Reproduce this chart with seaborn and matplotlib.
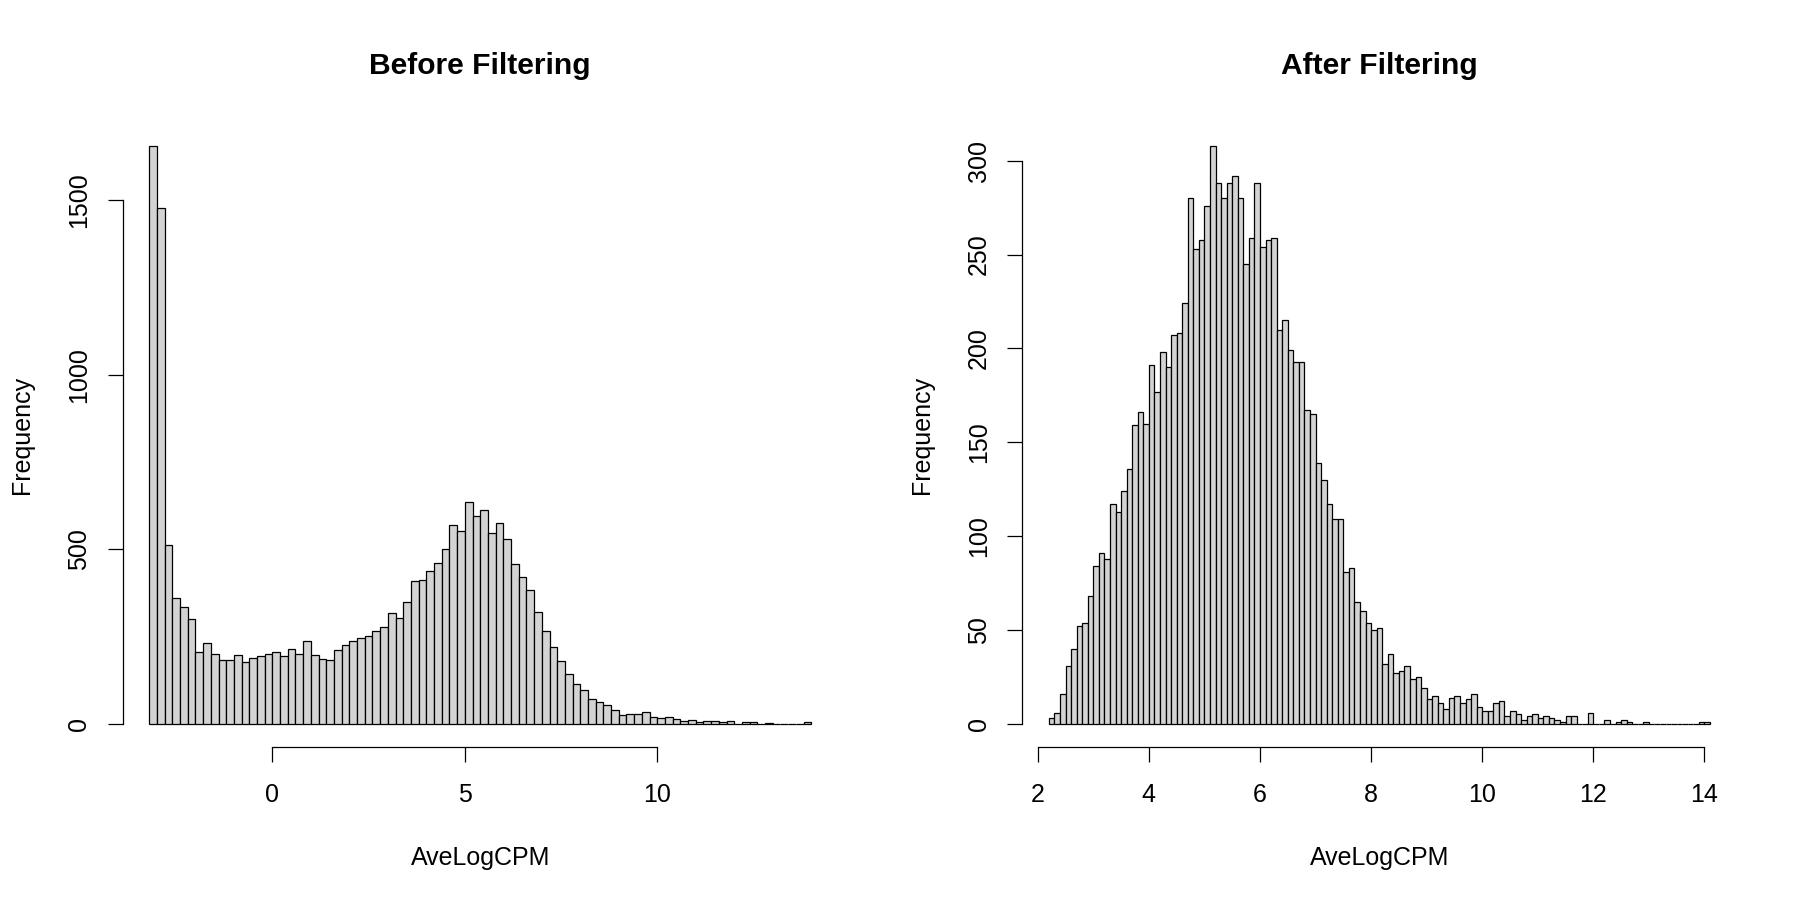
import numpy as np
import pandas as pd
import matplotlib
matplotlib.use("Agg")
import matplotlib.pyplot as plt
import seaborn as sns

# bin breaks (width 0.2 before filtering, 0.1 after filtering)
before_breaks = np.round(np.linspace(-3.2, 14.0, 87), 2)
after_breaks = np.round(np.linspace(2.2, 14.1, 120), 2)

# counts per bin
before_counts = [
    1657, 1478, 512, 362, 336, 301, 207, 231, 199, 182,
    184, 196, 176, 189, 194, 199, 206, 194, 214, 199,
    238, 198, 187, 183, 213, 225, 237, 245, 252, 267,
    277, 318, 302, 350, 410, 413, 439, 462, 500, 570,
    553, 637, 597, 612, 548, 575, 529, 459, 420, 383,
    320, 267, 221, 180, 142, 114, 96, 71, 62, 54,
    40, 25, 27, 28, 33, 21, 17, 21, 15, 8,
    12, 6, 7, 8, 4, 8, 1, 4, 4, 1,
    3, 1, 1, 1, 1, 4,
]
after_counts = [
    3, 6, 16, 31, 40, 52, 54, 68, 84, 91,
    88, 117, 113, 124, 136, 159, 166, 160, 191, 177,
    198, 190, 207, 208, 224, 280, 253, 258, 276, 308,
    288, 280, 288, 292, 280, 245, 259, 288, 254, 258,
    259, 210, 215, 199, 193, 193, 167, 165, 139, 130,
    117, 109, 109, 81, 83, 65, 60, 54, 50, 51,
    32, 37, 27, 28, 31, 24, 25, 19, 13, 15,
    11, 8, 14, 15, 11, 13, 16, 9, 7, 7,
    11, 12, 4, 7, 5, 2, 4, 5, 3, 4,
    3, 2, 1, 4, 4, 0, 0, 6, 0, 0,
    2, 0, 1, 2, 1, 0, 0, 1, 0, 0,
    0, 0, 0, 0, 0, 0, 0, 1, 1,
]

panels = [
    ("Before Filtering", before_breaks, before_counts, [0, 5, 10], [0, 500, 1000, 1500]),
    ("After Filtering", after_breaks, after_counts, list(range(2, 15, 2)), list(range(0, 301, 50))),
]

sns.set_style("ticks")
plt.rcParams["font.family"] = ["Liberation Sans", "DejaVu Sans"]
plt.rcParams.update({
    "text.color": "black",
    "axes.labelcolor": "black",
    "axes.edgecolor": "black",
    "xtick.color": "black",
    "ytick.color": "black",
})

fig = plt.figure(figsize=(18, 9), dpi=100)
positions = [[0.0682, 0.17, 0.3972, 0.6938], [0.568, 0.17, 0.3967, 0.6938]]

for pos, (title, breaks, counts, xt, yt) in zip(positions, panels):
    ax = fig.add_axes(pos)
    df = pd.DataFrame({"AveLogCPM": (breaks[:-1] + breaks[1:]) / 2, "n": counts})
    sns.histplot(data=df, x="AveLogCPM", weights="n", bins=breaks.tolist(), color="#D3D3D3",
                 edgecolor="black", linewidth=0.9, alpha=1, ax=ax)

    # R style axis extents (4% padding)
    xr = breaks[-1] - breaks[0]
    ymax = max(counts)
    ax.set_xlim(breaks[0] - 0.04 * xr, breaks[-1] + 0.04 * xr)
    ax.set_ylim(-0.04 * ymax, ymax * 1.04)

    ax.set_xticks(xt)
    ax.set_yticks(yt)
    for s in ["top", "right"]:
        ax.spines[s].set_visible(False)
    ax.spines["bottom"].set_bounds(xt[0], xt[-1])
    ax.spines["left"].set_bounds(yt[0], yt[-1])
    for s in ["bottom", "left"]:
        ax.spines[s].set_linewidth(0.9)
    ax.tick_params(axis="both", length=10.8, width=0.9, labelsize=18, color="black")
    ax.tick_params(axis="x", pad=15)
    ax.tick_params(axis="y", pad=12, labelrotation=90)
    for lab in ax.get_yticklabels():
        lab.set_va("center")

    ax.set_title(title, fontsize=21.6, fontweight="bold", pad=35)
    ax.set_xlabel("AveLogCPM", fontsize=18)
    ax.set_ylabel("Frequency", fontsize=18)
    ax.xaxis.set_label_coords(0.5, -0.178)
    ax.xaxis.label.set_va("center")
    ax.yaxis.set_label_coords(-0.1413, 0.5)
    ax.yaxis.label.set_va("center")
    ax.grid(False)

fig.savefig("out.png", dpi=100, facecolor="white")
